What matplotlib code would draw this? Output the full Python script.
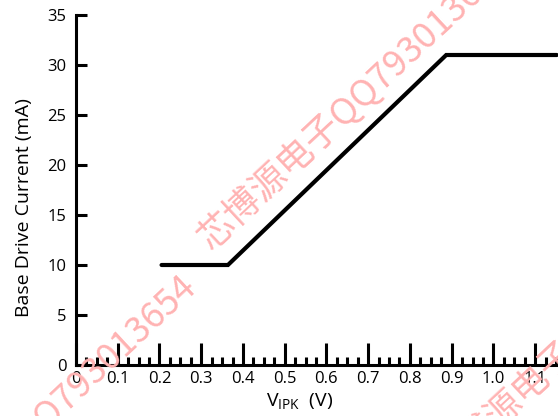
import matplotlib
matplotlib.use("Agg")
import matplotlib.pyplot as plt
from matplotlib.ticker import MultipleLocator

# data
vipk = [0.205, 0.364, 0.887, 1.152]
current = [10, 10, 31, 31]
xticks = [0, 0.1, 0.2, 0.3, 0.4, 0.5, 0.6, 0.7, 0.8, 0.9, 1.0, 1.1]
xticklabels = ["0", "0.1", "0.2", "0.3", "0.4", "0.5", "0.6", "0.7", "0.8", "0.9", "1.0", "1.1"]
yticks = [0, 5, 10, 15, 20, 25, 30, 35]
watermark = "芯博源电子QQ793013654"

plt.rcParams["font.family"] = ["Open Sans", "DejaVu Sans"]
plt.rcParams["mathtext.default"] = "regular"

fig = plt.figure(figsize=(5.58, 4.16), dpi=100)
ax = fig.add_axes([76 / 558, 1 - 365 / 416, 480 / 558, 350 / 416])

ax.plot(vipk, current, color="black", lw=3.0, solid_capstyle="round",
        solid_joinstyle="miter", clip_on=False)

ax.set_xlim(0, 1.15)
ax.set_ylim(0, 35)
for s in ["top", "right"]:
    ax.spines[s].set_visible(False)
for s in ["left", "bottom"]:
    ax.spines[s].set_linewidth(2.2)

ax.set_xticks(xticks)
ax.set_xticklabels(xticklabels)
ax.xaxis.set_minor_locator(MultipleLocator(0.025))
ax.set_yticks(yticks)
ax.tick_params(axis="x", which="major", direction="in", length=16, width=2.2,
               labelsize=12, pad=4)
ax.tick_params(axis="x", which="minor", direction="in", length=6, width=2.2)
ax.tick_params(axis="y", which="major", direction="in", length=8, width=2.2,
               labelsize=12, pad=7)

ax.set_xlabel("V$_{IPK}$  (V)", fontsize=14)
ax.xaxis.set_label_coords((300 - 76) / 480, -0.075)
ax.set_ylabel("Base Drive Current (mA)", fontsize=14)
ax.yaxis.set_label_coords(-0.09, 0.449)

# pink diagonal watermark
wm = dict(rotation=43, rotation_mode="anchor", va="baseline", fontsize=26,
          color="#ffb3b3", family=["Noto Sans CJK SC", "DejaVu Sans"], zorder=10)
fig.text(211 / 558, 1 - 251 / 416, watermark, ha="left", **wm)
fig.text(198 / 558, 1 - 289 / 416, watermark, ha="right", **wm)
fig.text(446 / 558, 1 - 478 / 416, watermark, ha="left", **wm)

fig.savefig("out.png", dpi=100)
